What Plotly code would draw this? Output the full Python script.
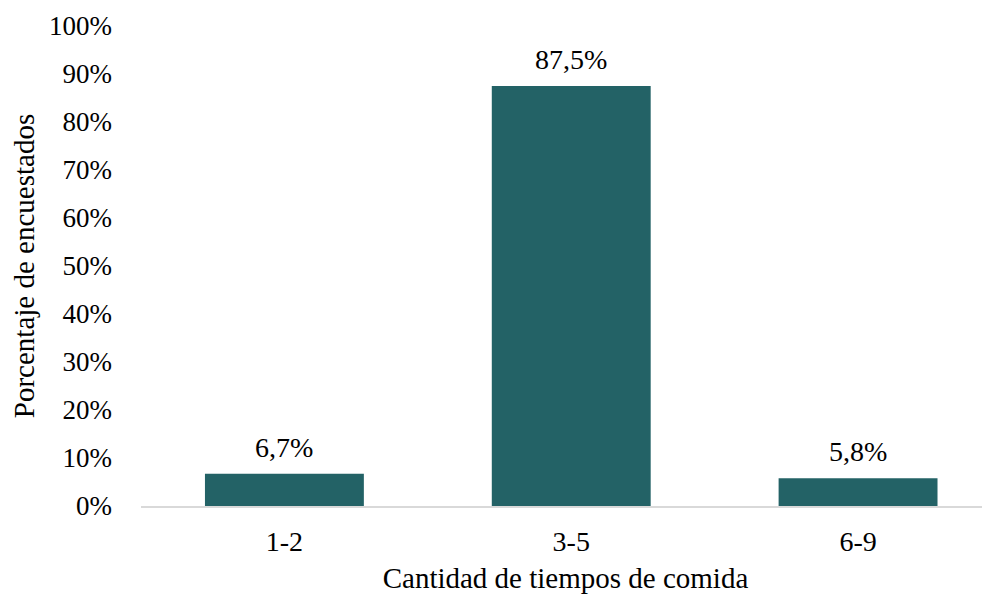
import plotly.graph_objects as go

categorias = ["1-2", "3-5", "6-9"]
porcentajes = [0.067, 0.875, 0.058]

FONT = "Liberation Serif"
BAR_COLOR = "#236266"


def txt(size):
    return dict(family=FONT, size=size, color="black")


fig = go.Figure()
fig.add_trace(go.Bar(x=categorias, y=porcentajes, marker_color=BAR_COLOR, marker_line_width=0))

# data labels above each bar
for cat, val in zip(categorias, porcentajes):
    fig.add_annotation(
        x=cat, y=val, text=f"{val * 100:.1f}%".replace(".", ","),
        showarrow=False, yanchor="bottom", yshift=9, font=txt(28),
    )

# margins allow for the 8px body margin of the html page
fig.update_layout(
    width=990, height=598,
    margin=dict(l=133, r=8, t=18, b=100),
    plot_bgcolor="white", paper_bgcolor="white",
    font=txt(27),
    bargap=0.446,
    showlegend=False,
    separators=",.",
)
fig.update_xaxes(
    range=[-0.5, 2.46],
    showline=True, linecolor="#d9d9d9", linewidth=2,
    ticks="", showgrid=False, automargin=False,
    ticklabelstandoff=9, tickfont=txt(28),
    title=dict(text="Cantidad de tiempos de comida", font=txt(29), standoff=12),
)
fig.update_yaxes(
    range=[0, 1], dtick=0.1, tickformat=".0%",
    showgrid=False, zeroline=False, ticks="", automargin=False,
    ticklabelstandoff=28, tickfont=txt(27),
    title=dict(text="Porcentaje de encuestados", font=txt(29), standoff=7),
)

fig.write_html("out.html")
